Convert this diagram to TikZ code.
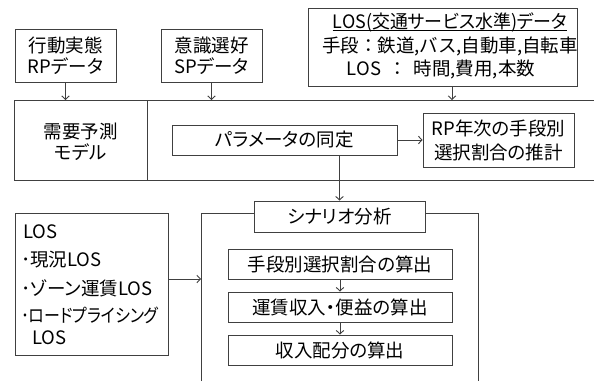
\documentclass[tikz,border=0pt]{standalone}
\usepackage{fontspec}
\setmainfont{Noto Sans CJK JP}[RawFeature=+palt]
\newfontfamily\jpfull{Noto Sans CJK JP}
\usetikzlibrary{arrows.meta}
\definecolor{linec}{RGB}{64,64,64}
\begin{document}
\begin{tikzpicture}[x=1pt,y=-1pt,
  txt/.style={font=\fontsize{18.5}{21}\selectfont, inner sep=0pt, align=center, text=black},
  box/.style={txt, draw=linec, line width=0.9pt, fill=white},
  frame/.style={draw=linec, line width=0.9pt},
  uline/.style={draw=black, line width=0.8pt},
  arr/.style={frame, -{Straight Barb[length=3.5pt,width=7.5pt]}}]
\useasboundingbox (0,0) rectangle (594,381);
% demand model frame
\coordinate (mtl) at (14,100);
\coordinate (mbl) at (14,180);
\coordinate (mtr) at (594,100);
\coordinate (mbr) at (594,180);
\coordinate (dvt) at (147,100);
\coordinate (dvb) at (147,180);
\draw[frame] (mtr) -- (mtl) -- (mbl) -- (mbr);
\draw[frame] (dvt) -- (dvb);
\node[txt] (model) at (80.5,142) {需要予測\\モデル};
% data boxes
\node[box, minimum width=101pt, minimum height=53pt] (rp) at (65.5,55.5) {行動実態\\RPデータ};
\node[box, minimum width=101pt, minimum height=53pt] (sp) at (211.5,55.5) {意識選好\\SPデータ};
\node[box, minimum width=269pt, minimum height=78pt] (los) at (442.5,47) {};
\node[txt] (losh) at (450,22) {\scalebox{0.97}[1]{LOS(交通サービス水準)データ}};
\coordinate (ulA) at ([yshift=-2.5pt]losh.base west);
\coordinate (ulB) at ([yshift=-2.5pt]losh.base east);
\path[uline] (ulA) -- (ulB);
\node[txt] (los2) at (450,46) {\jpfull 手段：鉄道,バス,自動車,自転車};
\node[txt] (los3) at (441,69) {\jpfull LOS\hspace{7pt}：\hspace{7pt}時間,費用,本数};
\draw[arr] ([xshift=9.5pt]los.south) -- ([xshift=9.5pt]los.south |- mtl);
\draw[arr] (rp.south) -- (rp.south |- mtl);
\draw[arr] (sp.south) -- (sp.south |- mtl);
% parameter estimation
\node[box, minimum width=225pt, minimum height=30pt] (param) at (284.5,140) {パラメータの同定};
\node[box, minimum width=151pt, minimum height=54pt] (rpy) at (498.5,140) {RP年次の手段別\\[3pt]選択割合の推計};
\draw[arr] (param.east) -- (rpy.west);
% scenario frame
\coordinate (sfl) at (201,381);
\coordinate (sftl) at (201,213);
\coordinate (sftr) at (478,213);
\coordinate (sfr) at (478,381);
\draw[frame] (sfl) -- (sftl) -- (sftr) -- (sfr);
\node[box, minimum width=171pt, minimum height=31pt] (scen) at (339.5,216.5) {シナリオ分析};
\draw[arr] (param.south -| scen.north) -- (scen.north);
\node[box, minimum width=224pt, minimum height=30pt] (s1) at (340,264) {手段別選択割合の算出};
\node[box, minimum width=224pt, minimum height=30pt] (s2) at (340,307) {運賃収入・便益の算出};
\node[box, minimum width=224pt, minimum height=30pt] (s3) at (340,350) {収入配分の算出};
\draw[arr] (s1.south) -- (s2.north);
\draw[arr] (s2.south) -- (s3.north);
% LOS scenarios box
\node[box, minimum width=153pt, minimum height=142pt] (losl) at (91.5,284) {};
\node[txt, anchor=west] (l1) at (23,232) {LOS};
\node[txt, anchor=west] (l2) at (21,260) {･現況LOS};
\node[txt, anchor=west] (l3) at (21,288) {･ゾーン運賃LOS};
\node[txt, anchor=west] (l4) at (21,315) {\scalebox{0.86}[1]{･ロードプライシング}};
\node[txt, anchor=west] (l5) at (32,338) {LOS};
\draw[arr] ([yshift=5pt]losl.east) -- ([yshift=5pt]losl.east -| sftl);
\end{tikzpicture}
\end{document}
